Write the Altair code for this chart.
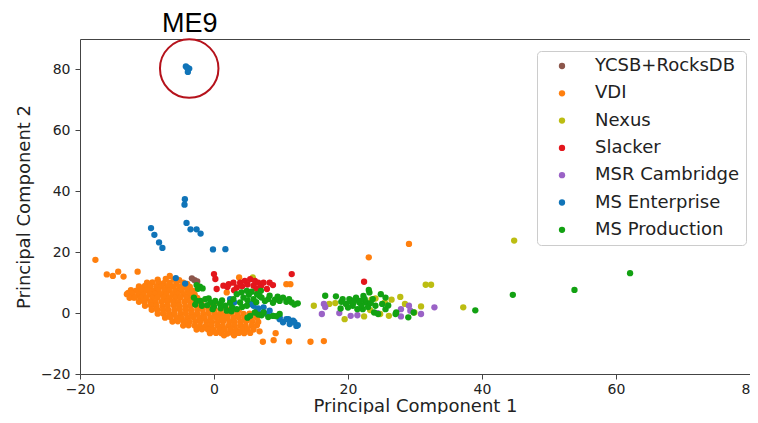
import altair as alt
import pandas as pd

SERIES = ["YCSB+RocksDB", "VDI", "Nexus", "Slacker", "MSR Cambridge", "MS Enterprise", "MS Production"]
COLORS = ["#8c564b", "#ff7f0e", "#bcbd12", "#e3161c", "#9a62c6", "#1074b8", "#12a112"]

ycsb = [(-3.3, 11.4), (-2.9, 10.8), (-2.5, 10.4)]

vdi = [
    (-17.7, 17.5), (-16.0, 12.7), (-15.1, 12.2), (-14.3, 13.6), (-13.5, 12.0), (-11.4, 13.6),
    (-6.6, 12.2), (3.75, 11.7), (10.8, 9.5), (11.4, 9.5), (23.1, 18.3), (29.1, 22.7),
    (6.8, -6.0), (9.2, -6.6), (7.3, -9.4), (8.9, -8.9), (11.2, -9.3), (14.4, -9.4), (16.4, -9.2),
    (1.9, 6.8), (-4.7, 8.4), (-12.8, 6.6), (-12.0, 5.1), (-10.9, 7.9),
    (-8.4, 11.0), (-7.2, 11.2), (-6.0, 11.0), (-5.2, 10.8),
    (-10.0, 10.0), (-9.2, 10.1), (-8.3, 10.0), (-7.5, 9.8), (-6.6, 10.0), (-5.6, 9.9), (-4.6, 10.0), (-4.0, 9.6),
    (-11.2, 8.8), (-10.3, 8.9), (-9.5, 8.7), (-8.6, 8.8), (-7.8, 8.8), (-6.9, 8.6), (-6.1, 8.8), (-5.2, 8.7), (-4.4, 8.9), (-3.6, 8.6),
    (-12.4, 7.5), (-11.6, 7.4), (-10.8, 7.6), (-10.0, 7.5), (-9.1, 7.4), (-8.3, 7.5), (-7.4, 7.6), (-6.6, 7.5), (-5.7, 7.4), (-4.9, 7.5), (-4.0, 7.6), (-3.2, 7.4),
    (-13.0, 6.2), (-12.2, 6.3), (-11.3, 6.2), (-10.5, 6.1), (-9.6, 6.2), (-8.8, 6.3), (-7.9, 6.2), (-7.1, 6.1), (-6.2, 6.2), (-5.4, 6.3), (-4.5, 6.2), (-3.7, 6.1), (-2.9, 6.2),
    (-12.6, 5.0), (-11.8, 5.1), (-10.9, 5.0), (-10.1, 4.9), (-9.2, 5.0), (-8.4, 5.1), (-7.5, 5.0), (-6.7, 4.9), (-5.8, 5.0), (-5.0, 5.1), (-4.1, 5.0), (-3.3, 4.9), (-2.5, 5.0),
    (-11.2, 3.7), (-10.4, 3.8), (-9.5, 3.7), (-8.7, 3.6), (-7.8, 3.7), (-7.0, 3.8), (-6.1, 3.7), (-5.3, 3.6), (-4.4, 3.7), (-3.6, 3.8), (-2.7, 3.7), (-1.9, 3.6),
    (-10.3, 2.4), (-9.4, 2.5), (-8.6, 2.4), (-7.7, 2.3), (-6.9, 2.4), (-6.0, 2.5), (-5.2, 2.4), (-4.3, 2.3), (-3.5, 2.4), (-2.6, 2.5), (-1.8, 2.4), (-0.9, 2.3), (0.0, 2.4),
    (-9.3, 1.1), (-8.5, 1.2), (-7.6, 1.1), (-6.8, 1.0), (-5.9, 1.1), (-5.1, 1.2), (-4.2, 1.1), (-3.4, 1.0), (-2.5, 1.1), (-1.7, 1.2), (-0.8, 1.1), (0.1, 1.0), (1.0, 1.1), (1.9, 1.2), (2.8, 1.1), (3.7, 1.0),
    (-8.4, -0.2), (-7.6, -0.1), (-6.7, -0.2), (-5.9, -0.3), (-5.0, -0.2), (-4.2, -0.1), (-3.3, -0.2), (-2.5, -0.3), (-1.6, -0.2), (-0.8, -0.1), (0.1, -0.2), (0.9, -0.3), (1.8, -0.2), (2.6, -0.1), (3.5, -0.2), (4.4, -0.3), (5.3, -0.2), (6.2, -0.1),
    (-7.3, -1.5), (-6.5, -1.4), (-5.6, -1.5), (-4.8, -1.6), (-3.9, -1.5), (-3.1, -1.4), (-2.2, -1.5), (-1.4, -1.6), (-0.5, -1.5), (0.3, -1.4), (1.2, -1.5), (2.0, -1.6), (2.9, -1.5), (3.7, -1.4), (4.6, -1.5), (5.5, -1.6), (6.4, -1.5),
    (-6.2, -2.8), (-5.4, -2.7), (-4.5, -2.8), (-3.7, -2.9), (-2.8, -2.8), (-2.0, -2.7), (-1.1, -2.8), (-0.3, -2.9), (0.6, -2.8), (1.4, -2.7), (2.3, -2.8), (3.1, -2.9), (4.0, -2.8), (4.8, -2.7), (5.7, -2.8), (6.6, -2.9),
    (-4.6, -4.1), (-3.8, -4.0), (-2.9, -4.1), (-2.1, -4.2), (-1.2, -4.1), (-0.4, -4.0), (0.5, -4.1), (1.3, -4.2), (2.2, -4.1), (3.0, -4.0), (3.9, -4.1), (4.7, -4.2), (5.6, -4.1), (6.4, -4.0),
    (-2.6, -5.4), (-1.8, -5.3), (-0.9, -5.4), (-0.1, -5.5), (0.8, -5.4), (1.6, -5.3), (2.5, -5.4), (3.3, -5.5), (4.2, -5.4), (5.0, -5.3), (5.9, -5.4),
    (-0.6, -6.6), (0.3, -6.5), (1.1, -6.6), (2.0, -6.7), (2.8, -6.6), (3.7, -6.5), (4.5, -6.6), (5.4, -6.5),
    (1.5, -7.3), (3.0, -7.3),
]

nexus = [
    (5.8, 11.7), (14.9, 2.4), (17.2, 3.0), (18.1, 3.3), (19.5, -2.0), (22.4, -1.1), (24.1, 4.8), (24.8, -0.3),
    (26.1, -0.9), (26.5, 4.4), (27.8, 5.3), (28.5, 3.0), (29.9, 0.2), (30.9, 2.2), (31.6, 9.3), (32.4, 9.3),
    (37.2, 1.9), (44.8, 23.8), (23.5, 4.4), (23.3, 1.0), (25.5, 3.5),
]

slacker = [
    (0.0, 12.8), (0.2, 11.2), (0.4, 7.9), (1.4, 9.0), (2.0, 8.6), (2.2, 9.5), (2.9, 10.0), (3.4, 8.4),
    (3.9, 10.0), (4.2, 8.8), (4.6, 10.6), (5.0, 9.4), (5.4, 11.1), (5.9, 9.0), (6.1, 10.6), (6.6, 10.0),
    (7.0, 8.8), (7.4, 10.0), (7.9, 7.9), (8.3, 10.0), (8.8, 9.2), (11.6, 12.8), (22.4, 10.3), (3.0, 7.5), (6.3, 8.0),
]

msr = [
    (16.4, 3.0), (16.1, -0.3), (18.7, 0.0), (20.4, -0.9), (21.4, -0.7), (24.4, 0.0), (27.9, 1.3), (27.9, -1.1),
    (29.1, 2.4), (29.3, 0.8), (30.9, -0.3), (32.9, 1.9), (16.6, 2.0),
]

ms_enterprise = [
    (-4.2, 81.0), (-3.7, 80.3), (-3.9, 79.2), (-4.0, 80.6),
    (-4.35, 37.4), (-4.4, 35.6), (-9.4, 27.9), (-8.9, 25.7), (-8.2, 23.2), (-7.7, 21.4), (-4.1, 29.6), (-3.5, 27.5),
    (-2.6, 27.5), (-2.0, 26.1), (-0.15, 20.9), (1.7, 21.0), (-5.7, 11.5), (-4.3, 9.7),
    (2.4, 4.6), (3.0, 3.5), (5.9, 2.4), (6.4, 0.8), (6.9, -0.3), (7.4, 1.9), (7.9, -0.3), (8.3, 0.8), (8.8, -0.9),
    (9.8, -2.0), (9.8, -1.4), (10.3, -3.0), (10.8, -2.0), (11.3, -3.6), (11.8, -2.5), (12.0, -3.0), (12.3, -4.2),
    (12.5, -4.0), (11.1, -2.0), (5.5, 3.0), (6.6, 1.5),
]

ms_production = [
    (-2.6, 9.2), (-2.1, 8.7), (-1.7, 8.1), (-2.4, 8.0),
    (-3.0, 5.1), (-2.6, 4.0), (-2.0, 4.0), (-1.3, 4.6), (-0.5, 3.5), (0.2, 4.0), (0.9, 3.0), (1.7, 2.4), (2.7, 1.9),
    (1.9, 0.8), (3.4, 1.3), (-1.8, 2.4), (-2.8, 2.8), (-1.0, 2.6), (0.0, 2.2), (-0.2, 1.3), (1.0, 1.6), (2.4, 3.4),
    (1.2, 4.2), (-0.8, 4.8), (2.6, 0.6), (4.2, 2.0),
    (2.9, 4.6), (3.4, 6.2), (4.1, 6.8), (4.9, 7.3), (5.6, 7.0), (6.4, 6.2), (4.4, 5.1), (5.9, 4.6), (7.1, 5.1),
    (8.1, 4.6), (9.1, 4.4), (9.8, 4.0), (10.8, 3.7), (11.6, 3.5), (12.5, 3.2), (10.3, 5.1), (8.3, 5.7), (3.9, 3.5),
    (4.9, 2.4), (5.2, 6.0), (6.8, 5.6), (7.6, 4.0), (9.5, 5.4), (11.2, 4.6), (12.0, 2.8), (6.3, 3.6), (8.8, 3.4),
    (7.0, 7.3), (5.0, 4.2),
    (5.4, -0.9), (6.1, 0.2), (7.1, -0.7), (7.4, 0.2), (8.1, -1.3), (8.8, -0.9), (9.8, -0.3), (9.3, -1.0), (5.0, -1.5), (6.6, -0.5),
    (16.6, 5.7), (18.2, 5.5), (19.2, 4.6), (20.2, 4.6), (21.2, 5.1), (19.7, 3.0), (20.7, 2.4), (21.7, 3.5), (22.7, 3.5),
    (23.2, 6.8), (23.1, 7.6), (23.7, 4.6), (24.9, 6.2), (25.6, 5.1), (24.1, 2.4), (25.1, 3.0), (25.6, 1.3), (18.9, 1.5),
    (21.4, 1.3), (22.2, 1.3), (27.2, 0.2), (27.1, -0.3), (29.0, -1.4), (29.8, 0.2), (20.3, 3.8), (21.0, 4.3),
    (22.0, 2.5), (22.5, 4.6), (23.0, 2.0), (21.8, 4.0), (20.8, 3.4), (23.4, 3.3), (23.9, 0.2), (24.5, -0.3),
    (20.0, 1.8), (19.0, 3.7), (22.3, 5.6), (26.0, 2.5),
    (39.0, 0.9), (44.6, 6.0), (53.8, 7.6), (62.1, 13.1),
]

X_TICKS = [-20, 0, 20, 40, 60, 80]
Y_TICKS = [-20, 0, 20, 40, 60, 80]

ANNOT_LABEL = [("ME9", -3.6, 92.3)]
ANNOT_CIRCLE = [(-3.7, 80.3)]

rows = []
for name, pts in zip(SERIES, [ycsb, vdi, nexus, slacker, msr, ms_enterprise, ms_production]):
    for x, y in pts:
        rows.append({"pc1": x, "pc2": y, "dataset": name})
df = pd.DataFrame(rows)

FONT = "DejaVu Sans"
xscale = alt.Scale(domain=[-20, 80], nice=False, zero=False)
yscale = alt.Scale(domain=[-20, 90], nice=False, zero=False)

points = alt.Chart(df).mark_circle(size=40, opacity=1).encode(
    x=alt.X("pc1:Q", scale=xscale, title="Principal Component 1",
            axis=alt.Axis(values=X_TICKS, grid=False, domain=False, tickSize=5, tickColor="#444",
                          labelPadding=3, labelFontSize=14, labelFont=FONT, labelColor="#222",
                          labelFlush=False, titleFont=FONT, titleFontSize=18, titleFontWeight="normal",
                          titleColor="#222", titleBaseline="alphabetic", titleY=37)),
    y=alt.Y("pc2:Q", scale=yscale, title="Principal Component 2",
            axis=alt.Axis(values=Y_TICKS, grid=False, domain=False, tickSize=5, tickColor="#444",
                          labelPadding=5, labelFontSize=14, labelFont=FONT, labelColor="#222",
                          labelFlush=False, titleFont=FONT, titleFontSize=18, titleFontWeight="normal",
                          titleColor="#222", titlePadding=7)),
    color=alt.Color("dataset:N", scale=alt.Scale(domain=SERIES, range=COLORS),
                    legend=alt.Legend(title=None, orient="none", legendX=457, legendY=12, padding=6,
                                      symbolOffset=10, labelOffset=24, rowPadding=9.3,
                                      labelFontSize=18, labelFont=FONT, labelColor="#222",
                                      symbolSize=40, symbolType="circle", symbolStrokeWidth=0,
                                      strokeColor="#cccccc", cornerRadius=4,
                                      fillColor="rgba(255,255,255,0.8)")),
    order=alt.Order("idx:Q"),
).transform_window(idx="row_number()")

circ_df = pd.DataFrame(ANNOT_CIRCLE, columns=["x", "y"])
circle = alt.Chart(circ_df).mark_point(shape="circle", filled=False, size=3421, stroke="#b5121b",
                                       strokeWidth=2, opacity=1).encode(
    x=alt.X("x:Q", scale=xscale), y=alt.Y("y:Q", scale=yscale))

lab_df = pd.DataFrame(ANNOT_LABEL, columns=["text", "x", "y"])
label = alt.Chart(lab_df).mark_text(font="Liberation Sans", fontSize=27, color="#000", baseline="alphabetic",
                                    align="center").encode(
    x=alt.X("x:Q", scale=xscale), y=alt.Y("y:Q", scale=yscale), text="text:N")

chart = alt.layer(points, circle, label).properties(
    width=670, height=335,
    autosize=alt.AutoSizeParams(type="none"),
    padding={"left": 72, "top": 31, "right": 0, "bottom": 40},
).configure_view(stroke="#444", strokeWidth=1)

chart.save("out.html", embed_options={"renderer": "svg", "actions": False})
